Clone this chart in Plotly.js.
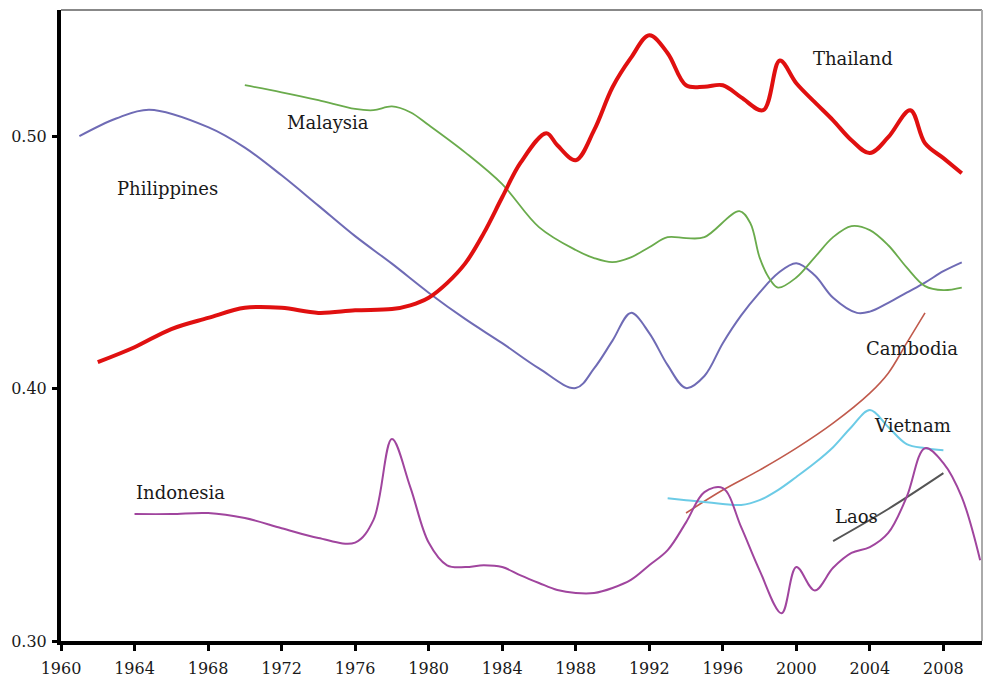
<!DOCTYPE html>
<html>
<head>
<meta charset="utf-8">
<script src="https://cdn.plot.ly/plotly-3.0.1.min.js"></script>
<style>html,body{margin:0;padding:0;background:#fff;}#chart{width:984px;height:682px;}</style>
</head>
<body>
<div id="chart"></div>
<script>
// Philippines
const phYears = [1961,1963,1964.8,1968,1970,1972,1974,1976,1978,1980,1982,1984,1986,1988,1989,1990,1991,1992,1993,1994,1995,1996,1997,1998,1999,2000,2001,2002,2003.3,2004,2005,2006,2007,2008,2009];
const phVals  = [0.500,0.507,0.5105,0.5036,0.4955,0.4845,0.4725,0.4604,0.4495,0.438,0.4275,0.418,0.408,0.4002,0.408,0.419,0.430,0.422,0.4093,0.4002,0.405,0.418,0.429,0.438,0.4457,0.4497,0.4449,0.436,0.430,0.4305,0.434,0.438,0.442,0.4465,0.450];
// Malaysia
const myYears = [1970,1972,1974,1976,1977,1978,1979,1980,1982,1984,1986,1988,1989,1990,1991,1992,1993,1994,1995,1996.9,1997.5,1998,1998.5,1999,2000,2001,2002,2003,2004,2005,2006,2007,2008,2009];
const myVals  = [0.5202,0.5174,0.5143,0.5108,0.5103,0.5118,0.5095,0.5044,0.4935,0.481,0.464,0.4549,0.4517,0.4501,0.452,0.456,0.460,0.4596,0.4600,0.4703,0.4655,0.452,0.444,0.440,0.444,0.452,0.460,0.4644,0.4628,0.4568,0.448,0.4406,0.439,0.440];
// Thailand
const thYears = [1962,1964,1966,1968,1970,1972,1974,1976,1978,1979,1980,1981,1982,1983,1984,1985,1986.4,1987,1988,1989,1990,1991,1992,1993,1994,1995,1996,1997,1998.2,1999.1,2000,2001,2002,2003,2004,2005,2006.2,2007,2008,2009];
const thVals  = [0.4105,0.4164,0.4236,0.428,0.432,0.432,0.430,0.431,0.4315,0.433,0.436,0.4418,0.4497,0.4616,0.4758,0.4895,0.5012,0.4964,0.4905,0.5024,0.5194,0.531,0.540,0.5329,0.5202,0.5196,0.5202,0.5154,0.5103,0.530,0.521,0.5135,0.5063,0.4984,0.4933,0.4996,0.5103,0.4972,0.4913,0.4853];
// Indonesia
const idYears = [1964,1966,1968,1970,1972,1974,1976,1977,1978,1979,1980,1981,1982,1983,1984,1985,1986,1987,1988,1989,1990,1991,1992,1993,1994,1995,1996,1997,1998,1999.2,2000,2001,2002,2003,2004,2005,2006,2007,2008,2009,2010];
const idVals  = [0.3503,0.3503,0.3507,0.3487,0.3447,0.3408,0.3390,0.348,0.3800,0.361,0.339,0.330,0.3293,0.330,0.3293,0.326,0.323,0.3202,0.319,0.319,0.321,0.3242,0.330,0.336,0.347,0.359,0.3606,0.3451,0.328,0.311,0.3293,0.320,0.329,0.3349,0.3372,0.3428,0.357,0.3764,0.3705,0.357,0.332];
// Cambodia
const khYears = [1994,1996,1998,2000,2002,2004,2005,2006,2007];
const khVals  = [0.3507,0.3598,0.3677,0.3764,0.3863,0.3982,0.4061,0.418,0.430];
// Vietnam
const vnYears = [1993,1994,1996,1997,1998,1999,2000,2001,2002,2003,2004,2005,2006,2007,2008];
const vnVals  = [0.3566,0.3558,0.3543,0.3539,0.3558,0.3598,0.365,0.3705,0.3768,0.3848,0.3915,0.3848,0.378,0.3764,0.3756];
// Laos
const laYears = [2002,2005,2008];
const laVals  = [0.3396,0.3523,0.3665];

const xTicks = [1960,1964,1968,1972,1976,1980,1984,1988,1992,1996,2000,2004,2008];
const yTicks = [0.30,0.40,0.50];
const yTickText = ["0.30","0.40","0.50"];

const labelNames = ["Thailand","Malaysia","Philippines","Cambodia","Vietnam","Indonesia","Laos"];
const labelX = [2003.1,1974.5,1965.8,2006.3,2006.3,1966.5,2003.3];
const labelY = [0.5309,0.5055,0.4794,0.4160,0.3855,0.3590,0.3495];

function tr(x,y,color,width){
  return {x:x,y:y,type:'scatter',mode:'lines',line:{color:color,width:width,shape:'spline',smoothing:1},hoverinfo:'skip',showlegend:false};
}
const data = [
  tr(phYears,phVals,'#6f6bb5',2),
  tr(myYears,myVals,'#6aab4c',1.8),
  tr(khYears,khVals,'#c05a4c',1.6),
  tr(vnYears,vnVals,'#6ccbe6',2),
  tr(laYears,laVals,'#555555',2),
  tr(idYears,idVals,'#a0459e',2),
  tr(thYears,thVals,'#e01010',4)
];

const annotations = labelNames.map((t,i)=>({x:labelX[i],y:labelY[i],xref:'x',yref:'y',text:t,showarrow:false,font:{family:'DejaVu Serif',size:18,color:'#1a1a1a'}}));

const layout = {
  width:984,height:682,
  margin:{l:61,r:2,t:10,b:41},
  paper_bgcolor:'#ffffff',plot_bgcolor:'#ffffff',
  showlegend:false,
  font:{family:'DejaVu Serif',size:16,color:'#1a1a1a'},
  xaxis:{range:[1960,2010.1],tickvals:xTicks,ticktext:xTicks.map(String),showgrid:false,zeroline:false,
    showline:true,linecolor:'#000',linewidth:4,ticks:'outside',ticklen:6,tickwidth:3,tickcolor:'#000',
    ticklabelstandoff:4,
    tickfont:{family:'DejaVu Serif',size:16,color:'#1a1a1a'}},
  yaxis:{range:[0.30,0.55],tickvals:yTicks,ticktext:yTickText,showgrid:false,zeroline:false,
    showline:true,linecolor:'#000',linewidth:4,ticks:'outside',ticklen:5,tickwidth:3,tickcolor:'#000',
    ticklabelstandoff:2,
    tickfont:{family:'DejaVu Serif',size:16,color:'#1a1a1a'}},
  shapes:[
    {type:'line',xref:'paper',yref:'paper',x0:0,x1:1,y0:1,y1:1,line:{color:'#888',width:2}},
    {type:'line',xref:'paper',yref:'paper',x0:1,x1:1,y0:0,y1:1,line:{color:'#aaa',width:2}}
  ],
  annotations:annotations
};
Plotly.newPlot('chart',data,layout,{staticPlot:true,displayModeBar:false});
</script>
</body>
</html>
